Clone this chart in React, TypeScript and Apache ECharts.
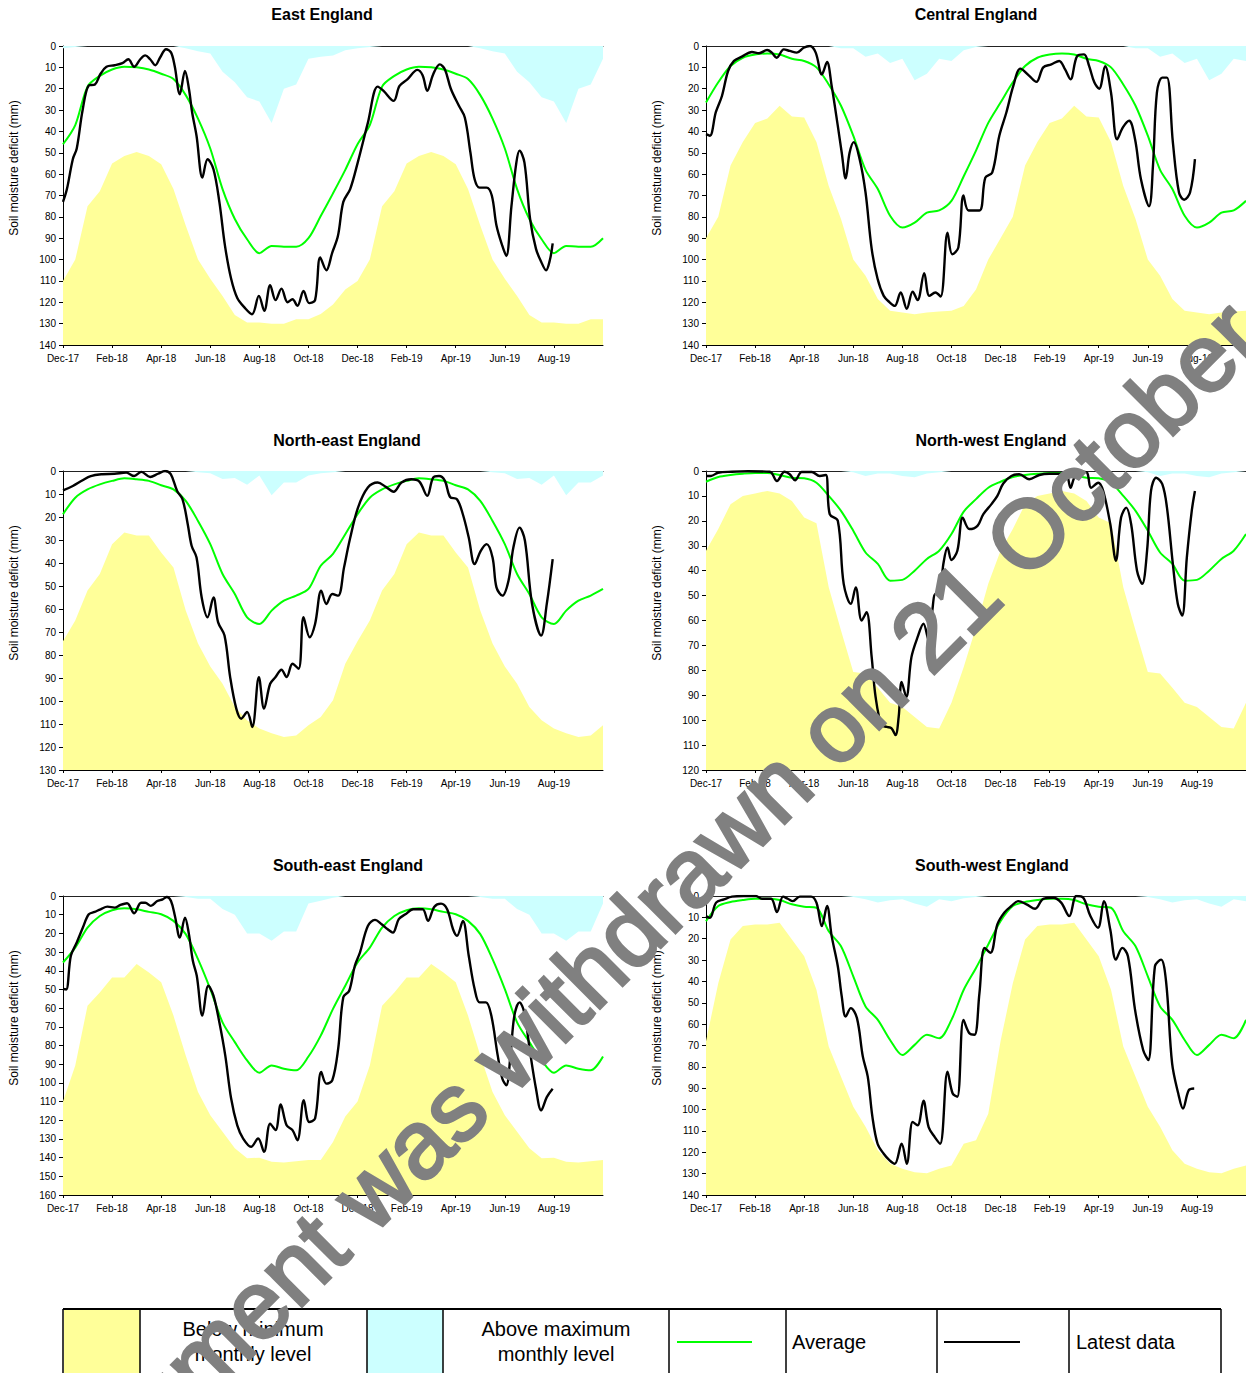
import React, { useEffect, useRef } from 'react';
import * as echarts from 'echarts';

const FONT = '"Liberation Sans", Arial, Helvetica, sans-serif';

// x axis: months since Dec-17, ticks every 2 months
const tickLabels = ['Dec-17', 'Feb-18', 'Apr-18', 'Jun-18', 'Aug-18', 'Oct-18', 'Dec-18', 'Feb-19', 'Apr-19', 'Jun-19', 'Aug-19'];

// Long-term weekly statistics, read at half-month steps (Dec .. mid-Nov); the same values repeat each year
const climMonths = [0, 0.5, 1, 1.5, 2, 2.5, 3, 3.5, 4, 4.5, 5, 5.5, 6, 6.5, 7, 7.5, 8, 8.5, 9, 9.5, 10, 10.5, 11, 11.5];

const eastAvg = [46, 37, 19, 14, 11, 9.7, 10, 11, 13, 15.5, 23, 34, 48, 67, 81, 90.5, 97, 93.6, 94, 94, 90, 79.6, 69, 58];
const eastMin = [110, 100, 75, 68, 55, 51.5, 49.6, 51.5, 55.4, 67, 84, 100, 109, 117, 126, 129.5, 129.5, 130, 130, 128, 128, 125.5, 121, 114];
const eastMax = [1, 0.5, 0, 0, 0, 0, 0, 0, 0, 0, 1, 2.5, 3.5, 12, 17, 24, 26, 36, 20, 18, 6, 5, 4.5, 2];

const centralAvg = [26.5, 17, 9.4, 5.5, 4, 3.5, 4, 6, 7, 10, 18, 28, 42, 58, 67, 79.5, 85, 82.7, 78, 77, 72.5, 61, 49, 36];
const centralMin = [90, 80, 56, 45, 36, 34, 28, 33, 33.5, 45, 65.5, 81, 100, 107.6, 118.5, 124, 124.8, 125.6, 124.8, 124.3, 124, 121.7, 114, 100];
const centralMax = [0, 0, 0, 0, 0, 0, 0, 0, 0, 0, 0, 1, 1, 5, 3.5, 8, 6, 16, 13, 6, 7, 2, 0.5, 0];

const northEastAvg = [18.8, 11.6, 8, 5.8, 4.3, 3.2, 3.6, 4.3, 6.2, 8, 13, 21.7, 31.8, 44.8, 53.5, 63.6, 66.5, 60.7, 56.4, 54.2, 51.3, 41.2, 36, 27.5];
const northEastMin = [74, 65, 52, 44.8, 31.8, 26.7, 28, 28, 35.4, 42, 60.7, 75, 85, 92.5, 102.6, 108.4, 112, 114, 115.6, 115, 110.5, 107, 99.7, 83.8];
const northEastMax = [0, 0, 0, 0, 0, 0, 0, 0, 0, 0, 0, 0.5, 1, 3.5, 3, 6, 2, 10.5, 5, 5, 2, 1, 0.5, 0];

const northWestAvg = [4.3, 2.4, 1.6, 1.1, 0.8, 0.8, 1.6, 2.7, 2.9, 4.7, 10, 16, 24, 32.7, 37.3, 44, 43.7, 40, 35.3, 32, 25.3, 16.3, 11.3, 6.7];
const northWestMin = [32, 23.3, 13.3, 10, 9, 8, 9, 12, 18.7, 21, 46.7, 64, 80.7, 81.3, 87, 93, 94.7, 98.7, 102.7, 103.3, 93, 78.7, 62.7, 45.3];
const northWestMax = [0, 0, 0, 0, 0, 0, 0, 0, 0, 0, 0, 0, 0.5, 2, 1, 1, 2, 2.5, 1, 0.5, 0, 0, 0, 0];

const southEastAvg = [35.6, 27.6, 16.9, 10.7, 7.6, 6.6, 7.1, 8.5, 9.8, 13.3, 20.4, 33.8, 49.8, 67.6, 78.2, 88, 94.6, 90.7, 92.4, 93.3, 85.9, 74.7, 60.4, 48];
const southEastMin = [110, 90.7, 58.7, 51.6, 43.6, 43.6, 36.4, 40.9, 46.2, 64, 85.3, 104.9, 117.3, 126.2, 135, 140.4, 140, 142.2, 142.6, 141.9, 141.3, 141.3, 131.6, 118];
const southEastMax = [0, 0, 0, 0, 0, 0, 0, 0, 0, 0, 0.5, 1.5, 1.5, 7, 10, 20, 20, 24, 19, 19, 4, 2.5, 1, 0];

const southWestAvg = [11.8, 4.7, 2.8, 1.9, 1.3, 1.3, 1.9, 3.9, 5, 5.5, 16.5, 23.5, 37.6, 51.7, 58, 67.4, 74.5, 69.7, 65, 66.6, 58, 43.9, 33.7, 22.7];
const southWestMin = [68, 40.8, 20.4, 14.1, 13.3, 13.3, 12.5, 20.4, 28.2, 43.9, 70.5, 84.6, 98.7, 108, 119, 125.4, 127.7, 129.3, 129.8, 127.7, 126.2, 116, 114.4, 101.9];
const southWestMax = [0, 0, 0, 0, 0, 0, 0, 0, 0, 0, 0, 0, 0.5, 1.5, 3, 2, 1.5, 3.5, 5, 1.5, 2.5, 1, 0.5, 0];

// Latest data: [months since Dec-17, deficit mm]
const eastLatest: [number, number][] = [[0, 73], [0.16, 67], [0.4, 53], [0.56, 48], [0.8, 30], [1.05, 18.5], [1.3, 18], [1.53, 13], [1.77, 9.7], [2.1, 9], [2.42, 8], [2.66, 6.2], [2.9, 9.7], [3.15, 6.2], [3.35, 4.4], [3.55, 6.2], [3.76, 9], [3.95, 5.5], [4.2, 1.5], [4.4, 3], [4.55, 9.4], [4.76, 22.6], [4.97, 11.7], [5.13, 20], [5.26, 31], [5.44, 42], [5.68, 61.6], [5.89, 53], [6.13, 57.7], [6.37, 73], [6.6, 93.6], [6.85, 109], [7.1, 118], [7.4, 122.5], [7.7, 125.6], [7.98, 117], [8.2, 124], [8.44, 112], [8.66, 119], [8.9, 113.6], [9.15, 120], [9.35, 118.6], [9.55, 121.7], [9.8, 114.7], [10.03, 120.4], [10.27, 119], [10.48, 99], [10.73, 105], [10.97, 96.7], [11.2, 89], [11.42, 73], [11.7, 67], [12.02, 54], [12.42, 36], [12.82, 19], [13.06, 21], [13.47, 25.7], [13.71, 18.7], [14.03, 15.6], [14.44, 11.2], [14.65, 13.7], [14.84, 21], [15.08, 13.3], [15.35, 8.6], [15.56, 11], [15.8, 20], [16.13, 28], [16.37, 33.5], [16.6, 50], [16.77, 62.4], [16.97, 66.3], [17.26, 66.3], [17.47, 70], [17.66, 84], [17.9, 93.6], [18.06, 98.3], [18.27, 75], [18.47, 54.6], [18.6, 49], [18.8, 54.6], [19.03, 81], [19.27, 95], [19.48, 101], [19.68, 105], [19.84, 100], [19.95, 92.4]];

const centralLatest: [number, number][] = [[0, 41.3], [0.16, 42], [0.4, 31], [0.65, 23.4], [0.9, 11.7], [1.14, 7], [1.46, 5], [1.87, 2.8], [2.16, 3.4], [2.49, 1.9], [2.68, 3.1], [2.88, 5.5], [3.17, 1.6], [3.41, 2.3], [3.7, 3.1], [3.98, 0.8], [4.23, 0], [4.47, 3.1], [4.72, 13.3], [4.93, 7.5], [5.12, 18.7], [5.37, 37.4], [5.53, 50], [5.69, 62], [5.85, 50], [6.02, 45], [6.26, 53], [6.5, 68.6], [6.75, 95], [6.99, 109], [7.24, 117], [7.48, 120], [7.69, 121.7], [7.93, 115.4], [8.18, 123], [8.42, 115], [8.62, 119], [8.89, 106.4], [9.1, 117], [9.35, 115.4], [9.56, 117.3], [9.84, 87.4], [10.03, 97.5], [10.28, 94.4], [10.49, 70], [10.7, 77], [11.14, 77], [11.38, 61.6], [11.66, 59.3], [11.95, 42], [12.24, 31], [12.52, 18.7], [12.81, 10.6], [13.17, 14], [13.46, 16.8], [13.74, 10], [14.07, 8.6], [14.39, 7], [14.63, 11], [14.85, 15.6], [15.12, 4.7], [15.4, 3.9], [15.61, 9.4], [15.82, 17], [16.02, 20], [16.26, 9.4], [16.5, 21.8], [16.75, 43.7], [16.99, 38], [17.24, 35], [17.48, 43.7], [17.72, 62.4], [18.05, 75], [18.21, 56], [18.37, 21.8], [18.59, 14.8], [18.78, 14.8], [19.02, 45], [19.27, 68.6], [19.48, 72], [19.72, 68.6], [19.92, 53]];

const northEastLatest: [number, number][] = [[0, 8.4], [0.4, 6.5], [0.8, 4], [1.13, 2.2], [1.6, 1.4], [2.1, 1.2], [2.58, 0.7], [2.9, 2.2], [3.19, 0.4], [3.55, 2.6], [3.87, 1.2], [4.16, 0], [4.39, 1.4], [4.65, 8.7], [4.87, 12.3], [5.08, 23], [5.24, 32.5], [5.44, 37.6], [5.65, 55], [5.89, 63.6], [6.13, 55], [6.32, 65.8], [6.58, 71.5], [6.81, 89.6], [7.06, 103.3], [7.26, 107.7], [7.5, 104.8], [7.71, 111.3], [7.98, 89.6], [8.19, 103.3], [8.44, 92.5], [8.66, 89.6], [8.9, 86.4], [9.11, 89.6], [9.35, 83.8], [9.6, 86], [9.8, 63.6], [10.05, 72.3], [10.27, 66.5], [10.52, 52], [10.73, 57.8], [10.97, 53.5], [11.21, 54.2], [11.45, 41.9], [11.69, 29.6], [12.02, 15.9], [12.42, 7.2], [12.82, 5], [13.15, 6.9], [13.47, 9], [13.79, 5], [14.19, 3.6], [14.52, 4.6], [14.84, 10.8], [15.08, 2.9], [15.32, 2.2], [15.56, 4.3], [15.77, 11.3], [16.05, 12.3], [16.29, 18.8], [16.53, 28.9], [16.77, 40.5], [17.02, 34.7], [17.26, 31.8], [17.5, 37.6], [17.66, 50.6], [17.9, 54.2], [18.15, 47.7], [18.35, 33.2], [18.6, 24.6], [18.82, 30.3], [19.11, 57.8], [19.48, 71.5], [19.71, 57.8], [19.95, 38.3]];

const northWestLatest: [number, number][] = [[0, 2], [0.2, 2], [0.49, 0.7], [1.06, 0.3], [1.7, 0.1], [2.6, 0.3], [2.89, 4], [3.2, 0.3], [3.41, 1.3], [3.63, 3.7], [3.9, 0.4], [4.31, 0.4], [4.63, 2], [4.88, 1.6], [5.04, 17.3], [5.37, 20], [5.61, 45.3], [5.9, 53.3], [6.1, 46.7], [6.34, 60], [6.54, 56.7], [6.75, 74.7], [6.91, 90.7], [7.15, 102], [7.37, 102.7], [7.56, 103.3], [7.72, 106], [7.85, 98.7], [7.97, 84.7], [8.16, 90.7], [8.37, 74.7], [8.62, 66.7], [8.86, 61.3], [9.07, 68], [9.22, 56], [9.35, 49.3], [9.51, 49.3], [9.67, 37.3], [9.84, 30.7], [10, 35.7], [10.24, 32], [10.46, 18.7], [10.73, 23.3], [11.06, 22], [11.3, 17.3], [11.63, 13.3], [11.87, 10], [12.11, 5], [12.44, 2], [12.76, 1.3], [13.17, 3.3], [13.58, 1.6], [13.98, 1.1], [14.39, 1.1], [14.68, 1.3], [14.85, 6.7], [15.04, 2], [15.37, 0.3], [15.53, 0.7], [15.69, 6.7], [15.98, 4.7], [16.18, 8], [16.47, 21.3], [16.7, 36], [16.91, 18.7], [17.12, 14.7], [17.32, 21.3], [17.56, 40], [17.77, 45.3], [17.97, 32], [18.13, 8], [18.34, 2.7], [18.59, 5.3], [18.78, 14.7], [19.02, 37.3], [19.22, 53.3], [19.4, 58], [19.59, 34.7], [19.79, 16], [19.92, 8]];

const southEastLatest: [number, number][] = [[0, 49.8], [0.13, 50], [0.32, 32], [0.56, 24.9], [0.81, 16.9], [1.05, 9.8], [1.29, 8.5], [1.53, 7.1], [1.81, 5.7], [2.1, 6.2], [2.34, 4.8], [2.61, 3.9], [2.9, 9.2], [3.18, 3.6], [3.35, 3.6], [3.58, 5.3], [3.84, 2.7], [4.06, 1.8], [4.23, 0.5], [4.4, 2.7], [4.56, 10.7], [4.76, 22.2], [4.97, 11.6], [5.13, 20.4], [5.29, 34.7], [5.45, 42.7], [5.68, 64], [5.92, 48], [6.13, 53.3], [6.37, 67.6], [6.61, 85.3], [6.85, 108.4], [7.1, 122.7], [7.34, 129.8], [7.66, 134.2], [7.95, 129.8], [8.19, 136.9], [8.44, 121.8], [8.66, 125.3], [8.87, 111.6], [9.11, 122.7], [9.35, 125.3], [9.55, 130.7], [9.81, 109.3], [10.03, 120.9], [10.27, 119.1], [10.52, 94.2], [10.73, 100.4], [10.97, 98.7], [11.21, 81.8], [11.42, 54.2], [11.66, 50.7], [11.89, 37.3], [12.1, 30.2], [12.42, 16], [12.71, 12.8], [12.98, 15.1], [13.23, 17.8], [13.44, 19.6], [13.68, 12.4], [13.95, 9.8], [14.27, 7.1], [14.65, 7.1], [14.87, 13.3], [15.13, 5.7], [15.4, 4.1], [15.65, 7.1], [15.89, 17.8], [16.05, 21.3], [16.29, 13.3], [16.53, 32], [16.77, 49.8], [16.97, 56.9], [17.23, 56.9], [17.45, 64], [17.71, 85.3], [17.9, 97.8], [18.06, 101.3], [18.23, 85.3], [18.39, 64], [18.6, 56.9], [18.79, 62.2], [19.03, 83.6], [19.27, 103.1], [19.48, 114.7], [19.71, 107.6], [19.95, 103.1]];

const southWestLatest: [number, number][] = [[0, 9.4], [0.16, 10.2], [0.41, 3.1], [0.73, 1.6], [1.06, 0.3], [1.54, 0], [2.03, 0], [2.28, 1.3], [2.65, 1.3], [2.89, 7.5], [3.14, 0.3], [3.33, 1.3], [3.54, 2.4], [3.82, 0.3], [4.28, 0.3], [4.5, 3.1], [4.72, 14.1], [4.93, 4.7], [5.12, 18.8], [5.37, 32.9], [5.53, 47], [5.69, 56.4], [5.9, 52.5], [6.15, 57.2], [6.39, 75.2], [6.59, 84.6], [6.78, 103.4], [6.99, 116], [7.24, 120.7], [7.48, 123.8], [7.69, 125.4], [7.97, 116], [8.18, 125.4], [8.42, 105.8], [8.62, 107.4], [8.86, 95.9], [9.07, 108.2], [9.32, 112.9], [9.54, 116], [9.84, 82.3], [10.05, 92.5], [10.24, 94], [10.49, 58], [10.73, 64.3], [10.94, 65], [11.14, 45.5], [11.35, 24.3], [11.59, 26.6], [11.87, 13.3], [12.15, 7.8], [12.44, 4.7], [12.72, 2.4], [13.06, 3.9], [13.41, 6], [13.74, 1.3], [14.15, 0.8], [14.47, 3.1], [14.8, 9.4], [15.09, 0], [15.37, 0.8], [15.66, 9.4], [15.97, 14.9], [16.21, 2.4], [16.47, 15.7], [16.7, 29.8], [16.96, 24.3], [17.19, 28.2], [17.48, 53.3], [17.81, 72.1], [18.02, 76.8], [18.29, 32.9], [18.54, 29.8], [18.75, 40.8], [18.99, 78.4], [19.24, 92.5], [19.43, 99.5], [19.67, 90.9], [19.89, 90.1]];

const panels = [
  { name: 'East England', avg: eastAvg, min: eastMin, max: eastMax, latest: eastLatest, yMax: 140 },
  { name: 'Central England', avg: centralAvg, min: centralMin, max: centralMax, latest: centralLatest, yMax: 140 },
  { name: 'North-east England', avg: northEastAvg, min: northEastMin, max: northEastMax, latest: northEastLatest, yMax: 130 },
  { name: 'North-west England', avg: northWestAvg, min: northWestMin, max: northWestMax, latest: northWestLatest, yMax: 120 },
  { name: 'South-east England', avg: southEastAvg, min: southEastMin, max: southEastMax, latest: southEastLatest, yMax: 160 },
  { name: 'South-west England', avg: southWestAvg, min: southWestMin, max: southWestMax, latest: southWestLatest, yMax: 140 },
];

const layout = [
  { left: 63, top: 46, titleX: 322, titleY: 15, nameX: 14, nameY: 168 },
  { left: 706, top: 46, titleX: 976, titleY: 15, nameX: 657, nameY: 168 },
  { left: 63, top: 471, titleX: 347, titleY: 441, nameX: 14, nameY: 593 },
  { left: 706, top: 471, titleX: 991, titleY: 441, nameX: 657, nameY: 593 },
  { left: 63, top: 896, titleX: 348, titleY: 866, nameX: 14, nameY: 1018 },
  { left: 706, top: 896, titleX: 992, titleY: 866, nameX: 657, nameY: 1018 },
];

const X_MAX = 22;

// Two-year series from the yearly statistics (same calendar values each year)
function twoYears(values: number[]): [number, number][] {
  const pts: [number, number][] = [];
  climMonths.forEach((m, i) => pts.push([m, values[i]]));
  climMonths.forEach((m, i) => {
    if (m + 12 <= X_MAX) pts.push([m + 12, values[i]]);
  });
  return pts;
}

function buildOption() {
  const grid: any[] = [];
  const xAxis: any[] = [];
  const yAxis: any[] = [];
  const series: any[] = [];
  const title: any[] = [];
  const graphic: any[] = [];

  panels.forEach((p, i) => {
    const L = layout[i];
    grid.push({ left: L.left, top: L.top, width: 540, height: 299, containLabel: false });
    xAxis.push({
      type: 'value', gridIndex: i, min: 0, max: X_MAX, interval: 2, position: 'bottom',
      axisLine: { onZero: false, lineStyle: { color: '#000', width: 1 } },
      axisTick: { show: true, length: 3, lineStyle: { color: '#000' } },
      axisLabel: {
        showMaxLabel: false, fontSize: 10, color: '#000', fontFamily: FONT, margin: 8,
        formatter: (v: number) => tickLabels[Math.round(v / 2)] ?? '',
      },
      splitLine: { show: false },
    });
    xAxis.push({
      type: 'value', gridIndex: i, min: 0, max: X_MAX, position: 'top',
      axisLine: { show: true, onZero: false, lineStyle: { color: '#222', width: 1 } },
      axisTick: { show: false }, axisLabel: { show: false }, splitLine: { show: false },
    });
    yAxis.push({
      type: 'value', gridIndex: i, inverse: true, min: 0, max: p.yMax, interval: 10,
      axisLine: { show: true, onZero: false, lineStyle: { color: '#000', width: 1 } },
      axisTick: { show: true, length: 4, lineStyle: { color: '#000' } },
      axisLabel: { fontSize: 10, color: '#000', fontFamily: FONT, margin: 7 },
      splitLine: { show: false },
    });
    const xi = i * 2;
    series.push({
      name: 'Below minimum monthly level', type: 'line', xAxisIndex: xi, yAxisIndex: i,
      data: twoYears(p.min), symbol: 'none', silent: true, z: 1,
      lineStyle: { width: 0 }, areaStyle: { color: '#FFFF99', opacity: 1, origin: 'end' },
    });
    series.push({
      name: 'Above maximum monthly level', type: 'line', xAxisIndex: xi, yAxisIndex: i,
      data: twoYears(p.max), symbol: 'none', silent: true, z: 1,
      lineStyle: { width: 0 }, areaStyle: { color: '#CCFFFF', opacity: 1, origin: 'start' },
    });
    series.push({
      name: 'Average', type: 'line', xAxisIndex: xi, yAxisIndex: i,
      data: twoYears(p.avg), symbol: 'none', smooth: 0.3, z: 3,
      lineStyle: { color: '#00FF00', width: 2 },
    });
    series.push({
      name: 'Latest data', type: 'line', xAxisIndex: xi, yAxisIndex: i,
      data: p.latest, symbol: 'none', smooth: 0.35, z: 4,
      lineStyle: { color: '#000', width: 2.4 },
    });
    title.push({
      text: p.name, left: L.titleX, top: L.titleY - 9, textAlign: 'center', padding: 0,
      textStyle: { fontSize: 16, fontWeight: 'bold', fontFamily: FONT, color: '#000' },
    });
    graphic.push({
      type: 'text', x: L.nameX, y: L.nameY, rotation: Math.PI / 2,
      style: { text: 'Soil moisture deficit (mm)', font: `12px ${FONT}`, fill: '#000', align: 'center', verticalAlign: 'middle' },
    });
  });

  // Legend table
  const legTop = 1309;
  graphic.push({ type: 'rect', shape: { x: 64, y: legTop, width: 76, height: 80 }, style: { fill: '#FFFF99' }, z: 10 });
  graphic.push({ type: 'rect', shape: { x: 367, y: legTop, width: 76, height: 80 }, style: { fill: '#CCFFFF' }, z: 10 });
  graphic.push({ type: 'line', shape: { x1: 63, y1: legTop, x2: 1221, y2: legTop }, style: { stroke: '#000', lineWidth: 2 }, z: 11 });
  [63, 140, 367, 443, 669, 786, 937, 1069, 1221].forEach((x) => {
    graphic.push({ type: 'line', shape: { x1: x, y1: legTop, x2: x, y2: 1380 }, style: { stroke: '#000', lineWidth: 1.5 }, z: 11 });
  });
  graphic.push({ type: 'line', shape: { x1: 677, y1: 1342, x2: 752, y2: 1342 }, style: { stroke: '#00FF00', lineWidth: 2 }, z: 11 });
  graphic.push({ type: 'line', shape: { x1: 944, y1: 1342, x2: 1020, y2: 1342 }, style: { stroke: '#000', lineWidth: 2 }, z: 11 });
  const legText = (text: string, x: number, y: number, align: string) => ({
    type: 'text', x, y, z: 11,
    style: { text, font: `20px ${FONT}`, fill: '#000', align, verticalAlign: 'middle' },
  });
  graphic.push(legText('Below minimum', 253, 1329, 'center'));
  graphic.push(legText('monthly level', 253, 1354, 'center'));
  graphic.push(legText('Above maximum', 556, 1329, 'center'));
  graphic.push(legText('monthly level', 556, 1354, 'center'));
  graphic.push(legText('Average', 792, 1342, 'left'));
  graphic.push(legText('Latest data', 1076, 1342, 'left'));

  // Watermark
  graphic.push({
    type: 'text', x: 21, y: 1540, rotation: Math.PI / 4, z: 100,
    style: {
      text: 'Document was withdrawn on 21 October 2019', font: `96px ${FONT}`,
      fill: '#808080', stroke: '#808080', lineWidth: 3, align: 'left', verticalAlign: 'middle',
    },
  });

  return { animation: false, title, grid, xAxis, yAxis, series, graphic };
}

export default function App() {
  const ref = useRef<HTMLDivElement>(null);
  useEffect(() => {
    if (!ref.current) return;
    const chart = echarts.init(ref.current, undefined, { renderer: 'svg' });
    chart.setOption(buildOption() as any);
    return () => chart.dispose();
  }, []);
  return <div ref={ref} style={{ position: 'absolute', left: 0, top: 0, width: 1246, height: 1373, background: '#fff' }} />;
}
